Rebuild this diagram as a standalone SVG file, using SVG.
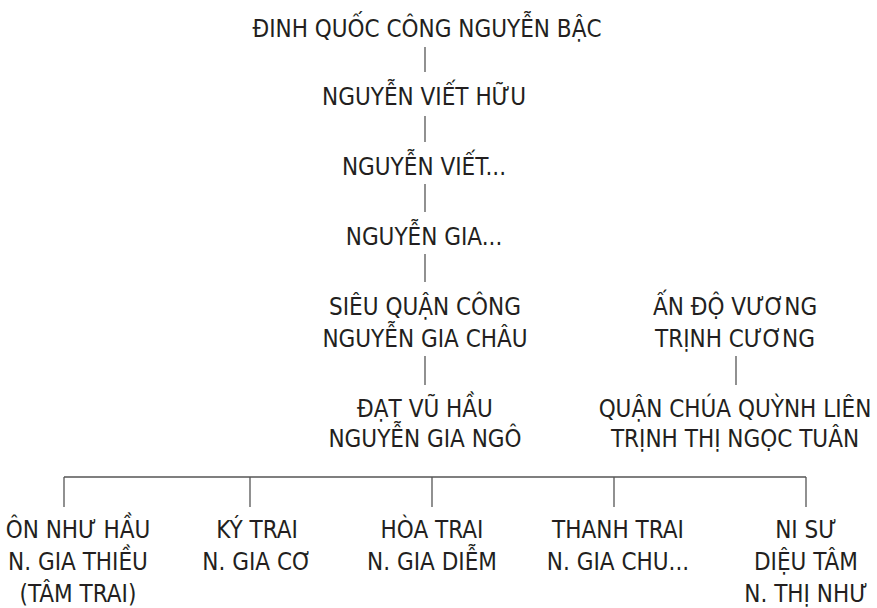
<svg xmlns="http://www.w3.org/2000/svg" width="877" height="608" viewBox="0 0 877 608">
<style>
text{font-family:"Liberation Sans Narrow","DejaVu Sans Condensed","Liberation Sans",sans-serif;font-size:24px;fill:#231f20;text-anchor:middle}
.c line{stroke:#555;stroke-width:1.3}
</style>
<rect width="877" height="608" fill="#fff"/>
<g id="n1"><text x="427" y="37">ĐINH QUỐC CÔNG NGUYỄN BẬC</text></g>
<g id="n2"><text x="424" y="105">NGUYỄN VIẾT HỮU</text></g>
<g id="n3"><text x="424" y="175">NGUYỄN VIẾT...</text></g>
<g id="n4"><text x="424" y="245">NGUYỄN GIA...</text></g>
<g id="n5"><text x="425" y="315">SIÊU QUẬN CÔNG</text><text x="425" y="347">NGUYỄN GIA CHÂU</text></g>
<g id="n6"><text x="425" y="417">ĐẠT VŨ HẦU</text><text x="425" y="447">NGUYỄN GIA NGÔ</text></g>
<g id="n7"><text x="735" y="315">ẤN ĐỘ VƯƠNG</text><text x="735" y="347">TRỊNH CƯƠNG</text></g>
<g id="n8"><text x="735" y="417">QUẬN CHÚA QUỲNH LIÊN</text><text x="735" y="447">TRỊNH THỊ NGỌC TUÂN</text></g>
<g id="c1"><text x="78" y="538">ÔN NHƯ HẦU</text><text x="78" y="570">N. GIA THIỀU</text><text x="78" y="602">(TÂM TRAI)</text></g>
<g id="c2"><text x="257" y="538">KÝ TRAI</text><text x="257" y="570">N. GIA CƠ</text></g>
<g id="c3"><text x="432" y="538">HÒA TRAI</text><text x="432" y="570">N. GIA DIỄM</text></g>
<g id="c4"><text x="618" y="538">THANH TRAI</text><text x="618" y="570">N. GIA CHU...</text></g>
<g id="c5"><text x="806" y="538">NI SƯ</text><text x="806" y="570">DIỆU TÂM</text><text x="806" y="602">N. THỊ NHƯ</text></g>
<g class="c" id="connectors">
<line x1="425" y1="47" x2="425" y2="72"/>
<line x1="425" y1="116" x2="425" y2="142"/>
<line x1="425" y1="184" x2="425" y2="212"/>
<line x1="425" y1="254" x2="425" y2="282"/>
<line x1="425" y1="356" x2="425" y2="385"/>
<line x1="736" y1="356" x2="736" y2="385"/>
<line x1="64" y1="477" x2="806" y2="477"/>
<line x1="64" y1="477" x2="64" y2="507"/>
<line x1="250" y1="477" x2="250" y2="507"/>
<line x1="432" y1="477" x2="432" y2="507"/>
<line x1="614" y1="477" x2="614" y2="507"/>
<line x1="806" y1="477" x2="806" y2="507"/>
</g>
</svg>
